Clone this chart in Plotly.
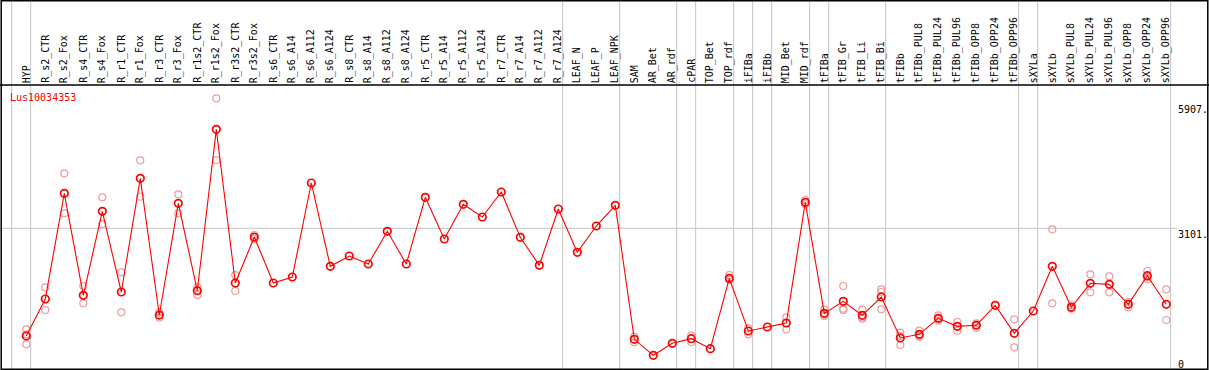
import plotly.graph_objects as go

categories = ["HYP", "R_s2_CTR", "R_s2_Fox", "R_s4_CTR", "R_s4_Fox", "R_r1_CTR", "R_r1_Fox",
              "R_r3_CTR", "R_r3_Fox", "R_r1s2_CTR", "R_r1s2_Fox", "R_r3s2_CTR", "R_r3s2_Fox",
              "R_s6_CTR", "R_s6_A14", "R_s6_A112", "R_s6_A124", "R_s8_CTR", "R_s8_A14",
              "R_s8_A112", "R_s8_A124", "R_r5_CTR", "R_r5_A14", "R_r5_A112", "R_r5_A124",
              "R_r7_CTR", "R_r7_A14", "R_r7_A112", "R_r7_A124", "LEAF_N", "LEAF_P", "LEAF_NPK",
              "SAM", "AR_Bet", "AR_rdf", "cPAR", "TOP_Bet", "TOP_rdf", "iFIBa", "iFIBb",
              "MID_Bet", "MID_rdf", "tFIBa", "tFIB_Gr", "tFIB_Li", "tFIB_Bi", "tFIBb",
              "tFIBb_PUL8", "tFIBb_PUL24", "tFIBb_PUL96", "tFIBb_OPP8", "tFIBb_OPP24",
              "tFIBb_OPP96", "sXYLa", "sXYLb", "sXYLb_PUL8", "sXYLb_PUL24", "sXYLb_PUL96",
              "sXYLb_OPP8", "sXYLb_OPP24", "sXYLb_OPP96"]

means = [682, 1513, 3885, 1595, 3481, 1670, 4221, 1153, 3660, 1700, 5321, 1872, 2904,
         1872, 2007, 4117, 2246, 2478, 2298, 3032, 2298, 3795, 2860, 3638, 3353, 3915,
         2897, 2269, 3533, 2561, 3151, 3616,
         608, 249, 518, 622, 398, 1977, 795, 884, 974, 3683, 1191, 1461, 1147, 1558, 638,
         720, 1079, 899, 922, 1371, 742, 1243, 2246, 1326, 1865, 1842, 1394, 2036, 1394]

replicates = [[832, 719, 495], [1775, 1266], [4334, 3436], [1805, 1416], [3795, 3196],
              [2111, 1214], [4625, 3810], [1214, 1095], [3862, 3436], [1775, 1602],
              [6017, 4632], [2051, 1692], [2950, 2860],
              [], [], [], [], [], [], [], [], [], [], [], [], [], [], [], [], [], [], [],
              [667, 541], [], [], [698, 548], [], [2052, 1939, 1940], [855, 720], [],
              [1101, 832], [3735, 3640], [1281, 1131, 1160], [1805, 1296, 1266],
              [1281, 1071, 1100], [1730, 1670, 1281], [757, 480, 680],
              [802, 667, 690], [1146, 1026, 1065], [997, 802], [967, 862, 937], [],
              [1057, 428], [], [3077, 1416], [1371, 1296], [2067, 1663], [2022, 1663],
              [1446, 1326], [2141, 1962, 2005], [1730, 1041]]

group_ends = [-1, 0, 28, 31, 34, 35, 37, 38, 39, 41, 42, 45, 52, 53, 60]
tick_values = [5907, 3101, 0]
tick_labels = ["5907.", "3101.", "0"]
gene = "Lus10034353"

W, H = 1209, 370
HEADER = 85
x_step = 19.0
x_first = 26.3
xr0 = -x_first / x_step
xr1 = xr0 + W / x_step
px_per_unit = 0.04455
y_zero_px = 366.4
yr1 = y_zero_px / px_per_unit
yr0 = -(H - y_zero_px) / px_per_unit

x = list(range(len(categories)))
rx, ry = [], []
for i, reps in enumerate(replicates):
    for v in reps:
        rx.append(i)
        ry.append(v)

fig = go.Figure()
fig.add_trace(go.Scatter(x=rx, y=ry, mode="markers",
                         marker=dict(symbol="circle-open", size=7, color="#f09a9a",
                                     line=dict(width=1.2)),
                         hoverinfo="skip", showlegend=False))
fig.add_trace(go.Scatter(x=x, y=means, mode="lines+markers",
                         line=dict(color="#ff0000", width=1.1),
                         marker=dict(symbol="circle-open", size=7.5, color="#ff0000",
                                     line=dict(width=1.7)),
                         showlegend=False))

shapes = []
for g in group_ends:
    gx = g + 0.23
    shapes.append(dict(type="line", xref="x", yref="paper", x0=gx, x1=gx, y0=0, y1=1,
                       line=dict(color="#c4c4c4", width=1), layer="below"))
shapes.append(dict(type="line", xref="paper", yref="y", x0=0, x1=1177 / W, y0=3101, y1=3101,
                   line=dict(color="#c4c4c4", width=1), layer="below"))
shapes.append(dict(type="line", xref="paper", yref="paper", x0=0, x1=1,
                   y0=1 - HEADER / H, y1=1 - HEADER / H, line=dict(color="black", width=1.5)))
shapes.append(dict(type="rect", xref="paper", yref="paper", x0=0.001, x1=0.999, y0=0.002, y1=0.998,
                   line=dict(color="black", width=1.5)))

annotations = []
for i, c in enumerate(categories):
    annotations.append(dict(x=i, xref="x", y=1 - 84 / H, yref="paper", text=c,
                            textangle=-90, xanchor="center", yanchor="bottom",
                            showarrow=False, borderpad=0,
                            font=dict(family="DejaVu Sans Mono", size=10, color="black")))
for v, t in zip(tick_values, tick_labels):
    yv = max(v, 8 / px_per_unit)
    annotations.append(dict(x=1177 / W, xref="paper", y=yv, yref="y", text=t,
                            xanchor="left", yanchor="top", showarrow=False, borderpad=0,
                            font=dict(family="DejaVu Sans Mono", size=10, color="black")))
annotations.append(dict(x=9 / W, xref="paper", y=1 - 97 / H, yref="paper", text=gene,
                        xanchor="left", yanchor="middle", showarrow=False, borderpad=0,
                        font=dict(family="DejaVu Sans Mono", size=10, color="#ff0000")))

fig.update_layout(width=W, height=H, autosize=False,
                  margin=dict(l=0, r=0, t=0, b=0),
                  paper_bgcolor="white", plot_bgcolor="white",
                  xaxis=dict(range=[xr0, xr1], visible=False, fixedrange=True),
                  yaxis=dict(range=[yr0, yr1], visible=False, fixedrange=True),
                  shapes=shapes, annotations=annotations, showlegend=False)

fig.write_html("out.html", config={"displayModeBar": False},
               post_script="document.body.style.margin='0px';document.body.style.overflow='hidden';")
